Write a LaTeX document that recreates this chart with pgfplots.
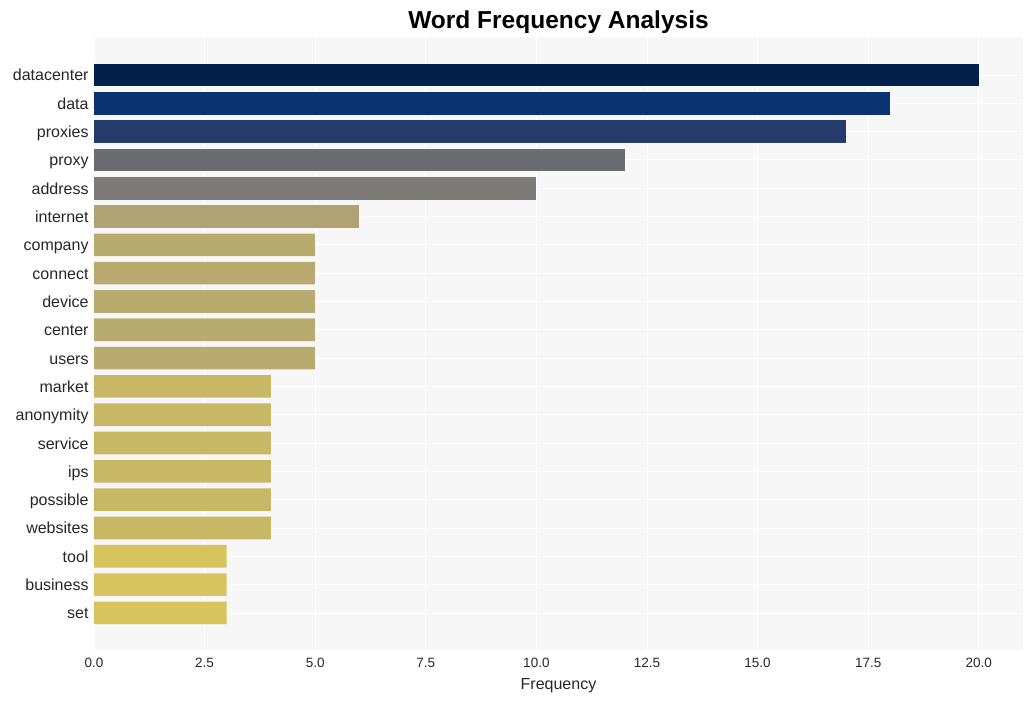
\documentclass[border=0pt]{standalone}
\usepackage{fontspec}
\setmainfont{Liberation Sans}
\usepackage{pgfplots}
\pgfplotsset{compat=1.18}
\definecolor{bg}{HTML}{F7F7F7}
\definecolor{txt}{HTML}{262626}
\definecolor{c1}{HTML}{00204C}
\definecolor{c2}{HTML}{0A3370}
\definecolor{c3}{HTML}{253B6B}
\definecolor{c4}{HTML}{6A6C72}
\definecolor{c5}{HTML}{7D7B78}
\definecolor{c6}{HTML}{AFA373}
\definecolor{c7}{HTML}{B8AB6F}
\definecolor{c8}{HTML}{C8B866}
\definecolor{c9}{HTML}{D7C45F}
\begin{document}
\begin{tikzpicture}
\begin{axis}[
  scale only axis, width=929pt, height=613pt,
  xmin=0, xmax=21, ymin=-1.34, ymax=20.31, y dir=reverse,
  xbar, bar width=0.8, bar shift=0pt,
  axis background/.style={fill=bg},
  axis line style={draw=none},
  grid=major, major grid style={white, line width=0.8pt},
  xtick={0,2.5,...,20}, ytick={0,...,19},
  yticklabels={datacenter,data,proxies,proxy,address,internet,company,connect,device,center,users,market,anonymity,service,ips,possible,websites,tool,business,set},
  tick style={draw=none},
  xticklabel style={font=\fontsize{13.5}{13.5}\selectfont, text=txt, yshift=-5pt},
  yticklabel style={font=\fontsize{16}{16}\selectfont, text=txt, text height=11.5pt, text depth=3.5pt, inner xsep=2pt, xshift=1pt, yshift=-2pt},
  xlabel={Frequency},
  xlabel style={font=\fontsize{16}{16}\selectfont, text=txt, yshift=-4pt},
  title={Word Frequency Analysis},
  title style={font=\bfseries\fontsize{24.5}{24.5}\selectfont, text=black, yshift=-6pt},
  /pgf/number format/fixed, /pgf/number format/fixed zerofill,
  /pgf/number format/precision=1, /pgf/number format/assume math mode=true,
]
\addplot[fill=c1, draw=none] coordinates {(20,0)};
\addplot[fill=c2, draw=none] coordinates {(18,1)};
\addplot[fill=c3, draw=none] coordinates {(17,2)};
\addplot[fill=c4, draw=none] coordinates {(12,3)};
\addplot[fill=c5, draw=none] coordinates {(10,4)};
\addplot[fill=c6, draw=none] coordinates {(6,5)};
\addplot[fill=c7, draw=none] coordinates {(5,6) (5,7) (5,8) (5,9) (5,10)};
\addplot[fill=c8, draw=none] coordinates {(4,11) (4,12) (4,13) (4,14) (4,15) (4,16)};
\addplot[fill=c9, draw=none] coordinates {(3,17) (3,18) (3,19)};
\end{axis}
\pgfresetboundingbox
\path[use as bounding box] ([xshift=-94pt,yshift=-51pt]current axis.south west) rectangle ([xshift=10pt,yshift=37pt]current axis.north east);
\end{tikzpicture}
\end{document}
